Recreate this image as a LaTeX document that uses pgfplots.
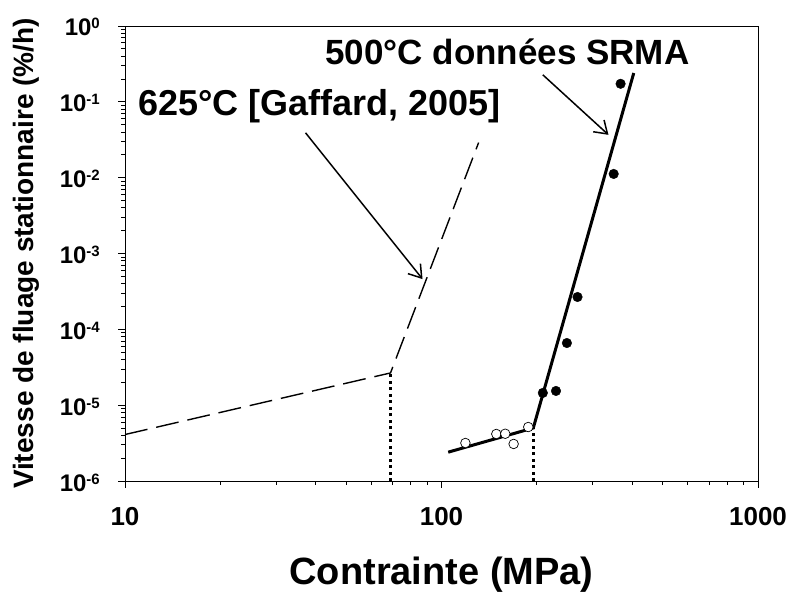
\documentclass[border=0pt]{standalone}
\usepackage{pgfplots}
\pgfplotsset{compat=1.18}
\usepackage{fontspec}
\setmainfont{Liberation Sans}
\usetikzlibrary{arrows.meta}
\newcommand{\E}[1]{10\raisebox{7pt}{\fontsize{15}{16}\selectfont #1}}
\pgfplotstableread{
x y
10 4.1e-6
69 2.66e-5
131 0.029
}\dashedline
\pgfplotstableread{
x y
105 2.4e-6
195 5.0e-6
405 0.24
}\solidline
\pgfplotstableread{
x y
119 3.17e-6
149 4.17e-6
159 4.2e-6
169 3.08e-6
188 5.15e-6
}\opendata
\pgfplotstableread{
x y
209 1.45e-5
230 1.54e-5
249 6.6e-5
269 2.67e-4
350 0.0112
368 0.173
}\filleddata
\begin{document}
\begin{tikzpicture}
\begin{axis}[
  xmode=log, ymode=log,
  scale only axis, width=633pt, height=455pt,
  xmin=10, xmax=1000, ymin=1e-6, ymax=1,
  axis line style={line width=0.8pt},
  tick align=outside, tick pos=left,
  major tick length=7pt, minor tick length=4pt,
  every tick/.style={black, line width=0.7pt},
  xtick={10,100,1000}, xticklabels={10,100,1000},
  minor xtick={20,30,40,50,60,70,80,90,200,300,400,500,600,700,800,900},
  ytick={1e-6,1e-5,1e-4,1e-3,1e-2,1e-1,1},
  yticklabels={\E{-6},\E{-5},\E{-4},\E{-3},\E{-2},\E{-1},\E{0}},
  minor ytick={2e-6,3e-6,4e-6,5e-6,6e-6,7e-6,8e-6,9e-6,2e-5,3e-5,4e-5,5e-5,6e-5,7e-5,8e-5,9e-5,2e-4,3e-4,4e-4,5e-4,6e-4,7e-4,8e-4,9e-4,2e-3,3e-3,4e-3,5e-3,6e-3,7e-3,8e-3,9e-3,2e-2,3e-2,4e-2,5e-2,6e-2,7e-2,8e-2,9e-2,2e-1,3e-1,4e-1,5e-1,6e-1,7e-1,8e-1,9e-1},
  xticklabel style={font=\fontsize{26}{30}\selectfont\bfseries, inner sep=0pt, anchor=base, yshift=-38pt},
  yticklabel style={font=\fontsize{24}{28}\selectfont\bfseries, inner sep=0pt, anchor=base east, xshift=-18pt, yshift=-10pt},
  xlabel={Contrainte (MPa)},
  ylabel={Vitesse de fluage stationnaire (\%/h)},
  xlabel style={font=\fontsize{38}{44}\selectfont\bfseries, inner sep=0pt, at={(axis description cs:0.5,0)}, anchor=base, yshift=-103pt},
  ylabel style={font=\fontsize{28}{32}\selectfont\bfseries, inner sep=0pt, at={(axis description cs:-0.1453,0.5)}, anchor=base},
  clip=false,
]
\addplot[black, line width=1.4pt, dash pattern=on 23pt off 9pt] table {\dashedline};
\addplot[black, line width=3pt, dash pattern=on 3pt off 3.5pt] coordinates {(69,1e-6) (69,2.66e-5)};
\addplot[black, line width=3pt, dash pattern=on 3pt off 3.5pt] coordinates {(195,1e-6) (195,5.0e-6)};
\addplot[black, line width=3pt] table {\solidline};
\addplot[only marks, mark=*, mark size=4.8pt, mark options={draw=black, fill=white, line width=0.7pt}] table {\opendata};
\addplot[only marks, mark=*, mark size=4.8pt, mark options={draw=black, fill=black}] table {\filleddata};
\node[anchor=base west, inner sep=0pt, font=\fontsize{36}{40}\selectfont\bfseries] at (axis cs:11.0,0.0653) {625°C [Gaffard, 2005]};
\node[anchor=base west, inner sep=0pt, font=\fontsize{35}{40}\selectfont\bfseries] at (axis cs:42.9,0.308) {500°C données SRMA};
\draw[black, line width=1.5pt, -{Straight Barb[length=12pt, width=16pt, line width=1.5pt]}] (axis cs:37.2,0.039) -- (axis cs:87.1,4.6e-4);
\draw[black, line width=1.5pt, -{Straight Barb[length=12pt, width=16pt, line width=1.5pt]}] (axis cs:209,0.227) -- (axis cs:337,0.0367);
\coordinate (SW) at (rel axis cs:0,0);
\coordinate (NE) at (rel axis cs:1,1);
\end{axis}
\pgfresetboundingbox
\path ([shift={(-125pt,-112pt)}]SW) rectangle ([shift={(29pt,26pt)}]NE);
\end{tikzpicture}
\end{document}
